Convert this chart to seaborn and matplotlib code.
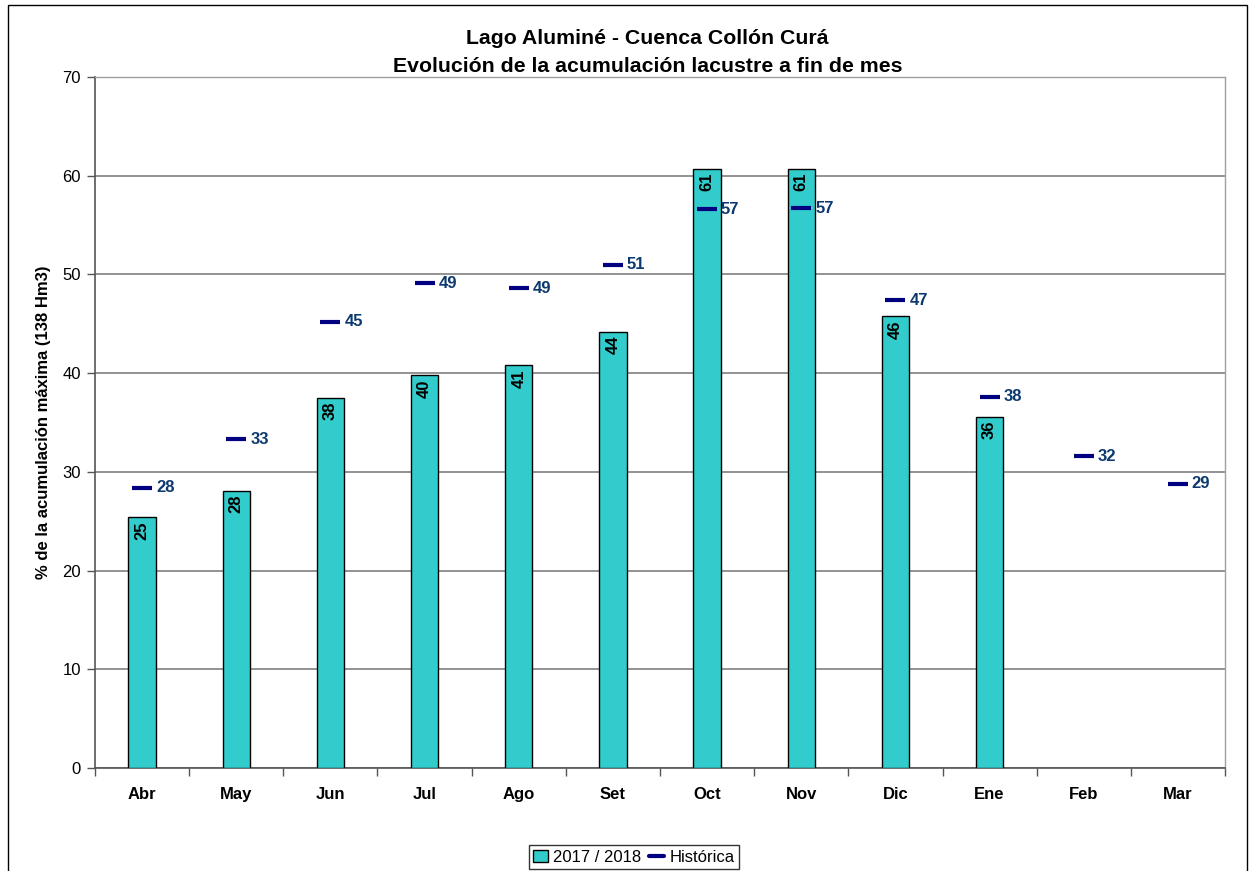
import numpy as np
import pandas as pd
import matplotlib
matplotlib.use("Agg")
import matplotlib.pyplot as plt
import seaborn as sns
from matplotlib.patches import Rectangle
from matplotlib.lines import Line2D

months = ["Abr", "May", "Jun", "Jul", "Ago", "Set", "Oct", "Nov", "Dic", "Ene", "Feb", "Mar"]
actual = [25.4, 28.1, 37.5, 39.8, 40.8, 44.2, 60.7, 60.7, 45.8, 35.6, np.nan, np.nan]
historica = [28.4, 33.3, 45.2, 49.1, 48.6, 51.0, 56.6, 56.7, 47.4, 37.6, 31.6, 28.8]
yticks = [0, 10, 20, 30, 40, 50, 60, 70]

sns.set_theme(style="white")
plt.rcParams['font.family'] = ['Liberation Sans', 'DejaVu Sans']
plt.rcParams['text.color'] = 'black'
plt.rcParams['xtick.color'] = 'black'
plt.rcParams['ytick.color'] = 'black'
plt.rcParams['axes.labelcolor'] = 'black'

fig = plt.figure(figsize=(12.5, 8.71), dpi=100)
ax = fig.add_axes([0.076, 0.1183, 0.904, 0.7933])

df = pd.DataFrame({"mes": months, "val": actual})
sns.barplot(data=df, x="mes", y="val", color="#33CCCC", width=0.29,
            edgecolor="black", linewidth=1, saturation=1, ax=ax, zorder=3)

xs = np.arange(len(months))
ax.plot(xs, historica, linestyle="none", marker="_", markersize=15,
        markeredgewidth=3, color="#000080", zorder=4)

for i, v in enumerate(actual):
    if not np.isnan(v):
        ax.annotate(f"{v:.0f}", (i, v), xytext=(0, -3), textcoords="offset points",
                    ha="center", va="top", rotation=90, fontsize=12,
                    fontweight="bold", color="black", zorder=5)
for i, v in enumerate(historica):
    ax.annotate(f"{v:.0f}", (i, v), xytext=(10, 0), textcoords="offset points",
                ha="left", va="center", fontsize=12, fontweight="bold",
                color="#0D3A6E", zorder=5)

ax.set_ylim(0, 70)
ax.set_xlim(-0.5, 11.5)
ax.set_yticks(yticks)
ax.set_yticklabels([str(t) for t in yticks], fontsize=12)
ax.set_xticks(xs)
ax.set_xticklabels(months, fontsize=12, fontweight="bold")
ax.tick_params(axis="x", length=0, pad=14)
ax.tick_params(axis="y", length=6, width=1, color="#555555", direction="out", left=True, pad=4)
ax.set_xticks(np.arange(-0.5, 12, 1), minor=True)
ax.tick_params(axis="x", which="minor", length=6, width=1, color="#555555", direction="out", bottom=True)

ax.yaxis.grid(True, color="#808080", linewidth=1.2, zorder=0)
ax.set_axisbelow(True)
for s in ["top", "right"]:
    ax.spines[s].set_color("#A0A0A0")
    ax.spines[s].set_linewidth(1)
for s in ["left", "bottom"]:
    ax.spines[s].set_color("#555555")
    ax.spines[s].set_linewidth(1.2)

ax.set_xlabel("")
ax.set_ylabel("% de la acumulación máxima (138 Hm3)", fontsize=12, fontweight="bold", labelpad=8)

fig.text(0.518, 0.956, "Lago Aluminé - Cuenca Collón Curá", ha="center", va="center",
         fontsize=15.3, fontweight="bold")
fig.text(0.518, 0.924, "Evolución de la acumulación lacustre a fin de mes", ha="center", va="center",
         fontsize=15.3, fontweight="bold")

handles = [Rectangle((0, 0), 1, 1, facecolor="#33CCCC", edgecolor="black", linewidth=1),
           Line2D([], [], color="#000080", linewidth=3)]
leg = fig.legend(handles, ["2017 / 2018", "Histórica"], loc="center", bbox_to_anchor=(0.507, 0.016),
                 ncol=2, fontsize=12, frameon=True, fancybox=False, handlelength=0.9,
                 handletextpad=0.3, columnspacing=0.5, borderpad=0.25)
leg.get_frame().set_edgecolor("black")
leg.get_frame().set_linewidth(1)

fig.patches.append(Rectangle((0.0065, -0.01), 0.991, 1.004, transform=fig.transFigure,
                             fill=False, edgecolor="black", linewidth=1))

fig.savefig("out.png", dpi=100)
